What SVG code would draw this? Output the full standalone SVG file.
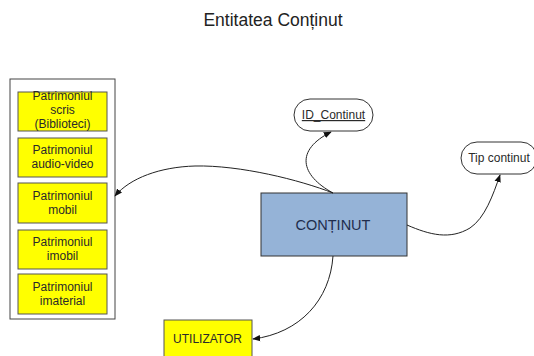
<svg xmlns="http://www.w3.org/2000/svg" width="534" height="356" viewBox="0 0 534 356">
  <style>
    text { font-family: "Liberation Sans", Arial, sans-serif; }
    .title { font-size: 17.5px; fill: #222; text-anchor: middle; }
    .lbl { font-size: 12px; fill: #2a2a2a; text-anchor: middle; }
    .ybox { fill: #ffff00; stroke: #555; stroke-width: 1; }
    .oval { fill: #fff; stroke: #333; stroke-width: 1; }
    .conn { fill: none; stroke: #222; stroke-width: 1; marker-end: url(#arrow); }
  </style>
  <defs>
    <marker id="arrow" viewBox="0 0 10 10" refX="9" refY="5" markerWidth="8" markerHeight="8" orient="auto" markerUnits="userSpaceOnUse">
      <path d="M0,1 L10,5 L0,9 z" fill="#111"/>
    </marker>
  </defs>

  <rect width="534" height="356" fill="#fff"/>

  <text class="title" x="273" y="26">Entitatea Conținut</text>

  <!-- Heritage categories container -->
  <g id="patrimoniu">
    <rect x="10" y="79" width="105" height="240" fill="#fff" stroke="#444" stroke-width="1"/>
    <g id="p-scris">
      <rect class="ybox" x="18" y="92" width="89" height="39"/>
      <text class="lbl" x="62.5" y="100">Patrimoniul</text>
      <text class="lbl" x="62.5" y="114">scris</text>
      <text class="lbl" x="62.5" y="127.5">(Biblioteci)</text>
    </g>
    <g id="p-audio">
      <rect class="ybox" x="18" y="138" width="89" height="39"/>
      <text class="lbl" x="62.5" y="154">Patrimoniul</text>
      <text class="lbl" x="62.5" y="167.5">audio-video</text>
    </g>
    <g id="p-mobil">
      <rect class="ybox" x="18" y="183" width="89" height="40"/>
      <text class="lbl" x="62.5" y="200">Patrimoniul</text>
      <text class="lbl" x="62.5" y="213.5">mobil</text>
    </g>
    <g id="p-imobil">
      <rect class="ybox" x="18" y="230" width="89" height="39"/>
      <text class="lbl" x="62.5" y="246">Patrimoniul</text>
      <text class="lbl" x="62.5" y="259.5">imobil</text>
    </g>
    <g id="p-imaterial">
      <rect class="ybox" x="18" y="274" width="89" height="40"/>
      <text class="lbl" x="62.5" y="291">Patrimoniul</text>
      <text class="lbl" x="62.5" y="304.5">imaterial</text>
    </g>
  </g>

  <!-- Central entity -->
  <g id="continut">
    <rect x="261" y="193" width="146" height="63" fill="#95b3d7" stroke="#333" stroke-width="1"/>
    <text x="333" y="230" font-size="14.5" fill="#1f2d4d" text-anchor="middle">CONȚINUT</text>
  </g>

  <!-- Attributes -->
  <g id="id-continut">
    <rect class="oval" x="294" y="99" width="79" height="32" rx="16" ry="16"/>
    <text class="lbl" x="333.5" y="119" text-decoration="underline">ID_Continut</text>
  </g>
  <g id="tip-continut">
    <rect class="oval" x="461" y="142" width="76" height="32" rx="16" ry="16"/>
    <text class="lbl" x="499" y="162">Tip continut</text>
  </g>

  <g id="utilizator">
    <rect class="ybox" x="164" y="320" width="88" height="40"/>
    <text class="lbl" x="207.5" y="343">UTILIZATOR</text>
  </g>

  <!-- Connectors -->
  <g id="connectors">
    <path class="conn" d="M333,193 C300,180 240,165 195,166 C160,167 130,178 115,196"/>
    <path class="conn" d="M333,193 C300,175 295,150 331,132"/>
    <path class="conn" d="M407,225 C430,235 450,240 470,228 C485,218 493,195 500,175"/>
    <path class="conn" d="M333,256 C330,300 300,333 253,339"/>
  </g>
</svg>
